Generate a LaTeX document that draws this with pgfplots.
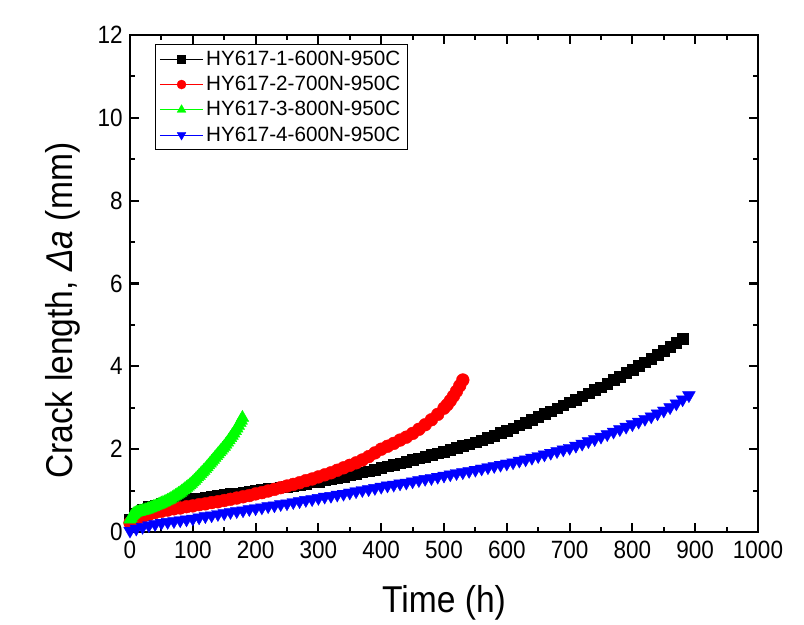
\documentclass[border=0pt]{standalone}
\usepackage{pgfplots}
\pgfplotsset{compat=1.18}
\usepackage{fontspec}
\setmainfont{Liberation Sans}[FakeStretch=0.9]
\newfontfamily\legfont{Liberation Sans}
\definecolor{cgreen}{RGB}{0,255,0}
\definecolor{cblue}{RGB}{0,0,255}
\definecolor{cred}{RGB}{255,0,0}
\begin{document}
\begin{tikzpicture}
\begin{axis}[
  scale only axis, width=471pt, height=372.75pt,
  xmin=0, xmax=1000, ymin=0, ymax=12,
  xtick={0,100,...,1000}, ytick={0,2,...,12},
  minor x tick num=1, minor y tick num=1,
  tick align=inside, xtick pos=both, ytick pos=both,
  xticklabel pos=left, yticklabel pos=left,
  major tick length=7pt, minor tick length=3.5pt,
  tick style={line width=1.6pt, black},
  axis line style={line width=2pt},
  /pgf/number format/assume math mode=true,
  /pgf/number format/1000 sep={},
  ticklabel style={font=\fontsize{18.75}{20}\selectfont},
  xticklabel style={yshift=-3pt},
  yticklabel style={xshift=-2pt},
  xlabel={Time (h)},
  ylabel={Crack length, {\itshape Δa} (mm)},
  label style={font=\fontsize{28}{30}\selectfont},
  xlabel style={at={(axis description cs:0.5,-0.161)}, anchor=base},
  ylabel style={at={(axis description cs:-0.092,0.445)}, anchor=base},
  legend style={at={(axis description cs:0.04,0.982)}, anchor=north west,
    font=\legfont\fontsize{15.5}{18}\selectfont, draw=black, line width=0.7pt,
    row sep=2.6pt, inner xsep=3pt, inner ysep=3pt},
  legend cell align=left,
  legend image code/.code={\draw[mark repeat=2,mark phase=2,line width=0.5pt,#1] plot coordinates {(0cm,0cm) (0.57cm,0cm) (1.14cm,0cm)};},
]
\addplot[black, line width=0.5pt, mark=square*, mark size=4pt, mark options={fill=black,draw=black,line width=0.3pt},
  legend image post style={mark size=3pt}] coordinates {
(0,0.30) (10,0.45) (20,0.55) (30,0.61) (40,0.65) (50,0.68) (60,0.71) (70,0.74) (80,0.76) (90,0.78)
(100,0.80) (110,0.82) (120,0.84) (130,0.86) (140,0.88) (150,0.90) (160,0.92) (170,0.94) (180,0.96) (190,0.98)
(200,1.00) (210,1.02) (220,1.04) (230,1.06) (240,1.08) (250,1.10) (260,1.12) (270,1.15) (280,1.17) (290,1.20)
(300,1.22) (310,1.25) (320,1.28) (330,1.31) (340,1.34) (350,1.37) (360,1.40) (370,1.44) (380,1.47) (390,1.51)
(400,1.55) (410,1.59) (420,1.62) (430,1.66) (440,1.70) (450,1.74) (460,1.78) (470,1.82) (480,1.86) (490,1.90)
(500,1.94) (510,1.98) (520,2.03) (530,2.08) (540,2.12) (550,2.17) (560,2.22) (570,2.27) (580,2.33) (590,2.39)
(600,2.45) (610,2.51) (620,2.58) (630,2.64) (640,2.71) (650,2.78) (660,2.85) (670,2.92) (680,2.99) (690,3.06)
(700,3.13) (710,3.20) (720,3.28) (730,3.35) (740,3.43) (750,3.50) (760,3.58) (770,3.67) (780,3.75) (790,3.84)
(800,3.92) (810,4.01) (820,4.10) (830,4.19) (840,4.28) (850,4.37) (860,4.47) (870,4.57) (880,4.67)
};
\addlegendentry{HY617-1-600N-950C}
\addplot[cred, line width=0.5pt, mark=*, mark size=4.8pt, mark options={fill=cred,draw=cred,line width=0.3pt},
  legend image post style={mark size=3.4pt}] coordinates {
(0,0.22) (10,0.30) (20,0.37) (30,0.42) (40,0.47) (50,0.50) (60,0.53) (70,0.56) (80,0.58) (90,0.61)
(100,0.63) (110,0.66) (120,0.68) (130,0.71) (140,0.73) (150,0.76) (160,0.79) (170,0.82) (180,0.85) (190,0.88)
(200,0.92) (210,0.95) (220,0.99) (230,1.03) (240,1.07) (250,1.11) (260,1.15) (270,1.19) (280,1.24) (290,1.28)
(300,1.33) (310,1.38) (320,1.43) (330,1.49) (340,1.55) (350,1.61) (360,1.67) (370,1.74) (380,1.82) (390,1.91)
(400,2.00) (410,2.07) (420,2.14) (430,2.22) (440,2.29) (450,2.38) (460,2.48) (470,2.59) (480,2.71) (490,2.84)
(500,2.99) (505,3.07) (510,3.17) (515,3.28) (520,3.40) (525,3.53) (530,3.67)
};
\addlegendentry{HY617-2-700N-950C}
\addplot[cgreen, line width=0.5pt, mark=triangle*, mark size=5.5pt, mark options={fill=cgreen,draw=cgreen,line width=0.3pt},
  legend image post style={mark size=3.8pt}] coordinates {
(0,0.30) (1.5,0.34) (3,0.38) (4.5,0.41) (6,0.43) (8,0.45) (10,0.47) (12.5,0.48) (15,0.49) (17.5,0.50) (20,0.51)
(22.5,0.52) (25,0.53) (27.5,0.545) (30,0.56) (32.5,0.575) (35,0.59) (37.5,0.605) (40,0.62) (43,0.64)
(46,0.66) (48,0.675) (50,0.69) (52.5,0.705) (55,0.72) (57.5,0.74) (60,0.76) (62.5,0.78) (65,0.80) (67.5,0.825)
(70,0.85) (72.5,0.875) (75,0.90) (77.5,0.925) (80,0.95) (82.5,0.98) (85,1.01) (87.5,1.04) (90,1.07) (92.5,1.10)
(95,1.13) (97.5,1.165) (100,1.20) (102.5,1.24) (105,1.28) (107.5,1.32) (110,1.36) (112.5,1.40) (115,1.44)
(117.5,1.48) (120,1.52) (122.5,1.565) (125,1.61) (127.5,1.655) (130,1.70) (132.5,1.745) (135,1.79) (137.5,1.835)
(140,1.88) (142.5,1.925) (145,1.97) (147.5,2.015) (150,2.06) (152.5,2.11) (155,2.16) (157.5,2.215) (160,2.27)
(162.5,2.325) (165,2.38) (167.5,2.44) (170,2.50) (172.5,2.565) (175,2.63) (177,2.69) (179,2.76)
};
\addlegendentry{HY617-3-800N-950C}
\addplot[cblue, line width=0.5pt, mark=triangle*, mark size=5.5pt, mark options={rotate=180,fill=cblue,draw=cblue,line width=0.3pt},
  legend image post style={mark size=3.8pt}] coordinates {
(0,0.03) (10,0.08) (20,0.12) (30,0.16) (40,0.19) (50,0.22) (60,0.24) (70,0.26) (80,0.28) (90,0.30)
(100,0.32) (110,0.35) (120,0.38) (130,0.40) (140,0.43) (150,0.45) (160,0.48) (170,0.50) (180,0.52) (190,0.55)
(200,0.57) (210,0.59) (220,0.62) (230,0.64) (240,0.67) (250,0.69) (260,0.72) (270,0.74) (280,0.77) (290,0.79)
(300,0.82) (310,0.85) (320,0.87) (330,0.90) (340,0.92) (350,0.95) (360,0.98) (370,1.01) (380,1.03) (390,1.06)
(400,1.09) (410,1.12) (420,1.14) (430,1.17) (440,1.19) (450,1.22) (460,1.25) (470,1.28) (480,1.30) (490,1.33)
(500,1.36) (510,1.39) (520,1.42) (530,1.44) (540,1.47) (550,1.50) (560,1.53) (570,1.56) (580,1.59) (590,1.62)
(600,1.65) (610,1.68) (620,1.72) (630,1.75) (640,1.79) (650,1.83) (660,1.87) (670,1.91) (680,1.95) (690,1.99)
(700,2.03) (710,2.08) (720,2.13) (730,2.19) (740,2.24) (750,2.30) (760,2.36) (770,2.42) (780,2.48) (790,2.54)
(800,2.60) (810,2.66) (820,2.73) (830,2.79) (840,2.86) (850,2.93) (860,3.01) (870,3.10) (880,3.20) (890,3.30)
};
\addlegendentry{HY617-4-600N-950C}
\end{axis}
\useasboundingbox ([shift={(-97.5pt,-69.75pt)}]current axis.south west) rectangle ([shift={(34.5pt,26.25pt)}]current axis.north east);
\end{tikzpicture}
\end{document}
